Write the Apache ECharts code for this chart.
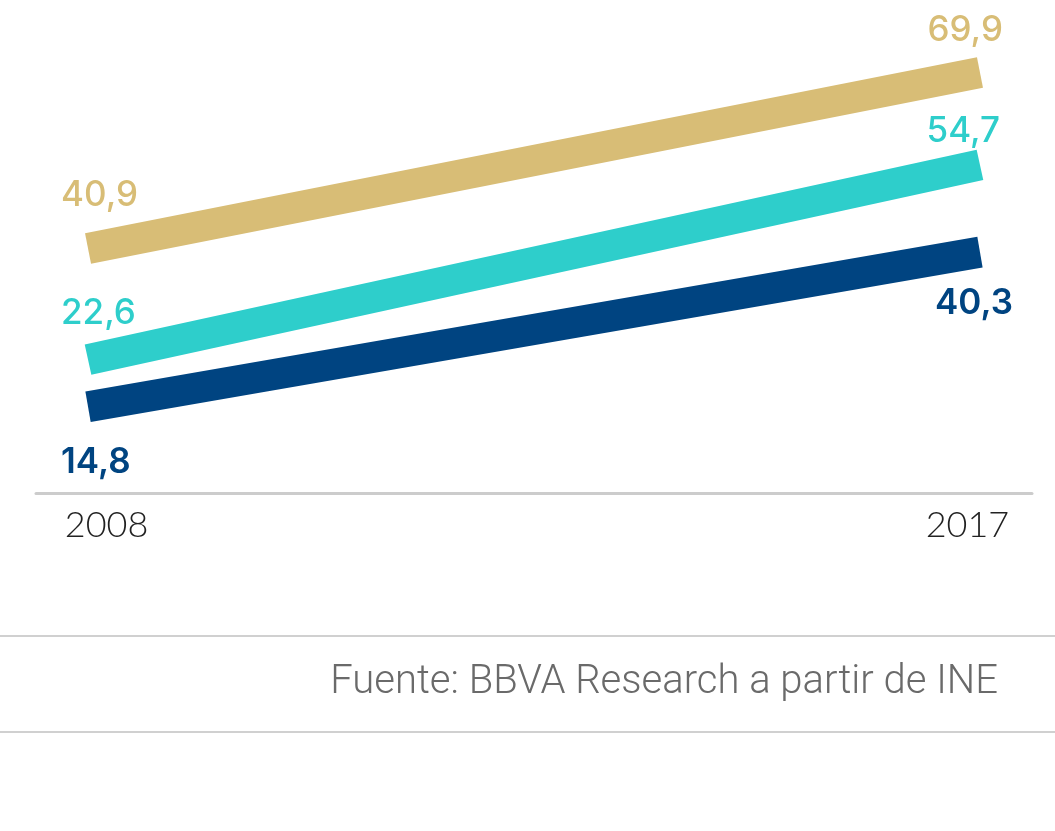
<!DOCTYPE html>
<html><head><meta charset="utf-8">
<script src="https://cdn.jsdelivr.net/npm/echarts@6/dist/echarts.min.js"></script>
<style>html,body{margin:0;padding:0;background:#fff}#c{width:1055px;height:831px}</style>
</head><body><div id="c"></div>
<script>
const years = [2008, 2017];
const yearLabels = ['2008', '2017'];
const goldValues = [40.9, 69.9];
const tealValues = [22.6, 54.7];
const navyValues = [14.8, 40.3];
const sourceText = 'Fuente: BBVA Research a partir de INE';

const GOLD = '#D8BD76', TEAL = '#2ECECB', NAVY = '#004481';
const fmt = v => v.toFixed(1).replace('.', ',');

function makeSeries(name, values, color, weight, labelStyles) {
  return {
    type: 'line', name: name,
    data: values.map((v, i) => ({
      value: [years[i], v],
      label: Object.assign({
        show: true, position: 'inside', color: color,
        fontFamily: 'Inter', fontSize: 35, fontWeight: weight,
        verticalAlign: 'middle',
        formatter: p => fmt(p.value[1])
      }, labelStyles[i])
    })),
    symbol: 'circle', symbolSize: 0.01, itemStyle: { color: color },
    lineStyle: { color: color, width: 31, cap: 'butt' },
    silent: true, z: 2
  };
}

const chart = echarts.init(document.getElementById('c'), null, { renderer: 'canvas' });
chart.setOption({
  animation: false,
  backgroundColor: '#ffffff',
  grid: { left: 36, right: 23, top: 4, bottom: 338, containLabel: false },
  xAxis: {
    type: 'value', min: 2007.475, max: 2017.525,
    splitLine: { show: false },
    axisLine: { show: true, onZero: false, lineStyle: { color: '#cccccc', width: 3 } },
    axisTick: { show: false },
    axisLabel: {
      customValues: years,
      margin: 14,
      color: '#222222', fontFamily: 'Lato', fontSize: 36, fontWeight: 300,
      formatter: v => (v === years[0] ? '{l|' + yearLabels[0] + '}' : '{r|' + yearLabels[1] + '}'),
      rich: {
        l: { padding: [0, 0, 0, 37], color: '#222222', fontFamily: 'Lato', fontSize: 36, fontWeight: 300 },
        r: { padding: [0, 25, 0, 0], color: '#222222', fontFamily: 'Lato', fontSize: 36, fontWeight: 300 }
      }
    }
  },
  yAxis: { type: 'value', min: 0.6, max: 81.2, show: false, splitLine: { show: false } },
  series: [
    makeSeries('gold', goldValues, GOLD, 500, [
      { align: 'left', offset: [-27, -53.5] },
      { align: 'right', offset: [23, -42.5] }
    ]),
    makeSeries('teal', tealValues, TEAL, 500, [
      { align: 'left', offset: [-27, -46.5] },
      { align: 'right', offset: [20, -33.7] }
    ]),
    makeSeries('navy', navyValues, NAVY, 600, [
      { align: 'left', offset: [-27, 56] },
      { align: 'right', offset: [33, 51] }
    ])
  ],
  graphic: [
    { type: 'rect', shape: { x: 0, y: 635, width: 1055, height: 2 }, style: { fill: '#d0d0d0' }, silent: true },
    { type: 'rect', shape: { x: 0, y: 731, width: 1055, height: 2 }, style: { fill: '#d0d0d0' }, silent: true },
    { type: 'text', x: 998, y: 683, style: { text: sourceText, align: 'right', verticalAlign: 'middle', fill: '#6a6a6a', font: '300 40px Roboto' }, silent: true }
  ]
});
</script></body></html>
